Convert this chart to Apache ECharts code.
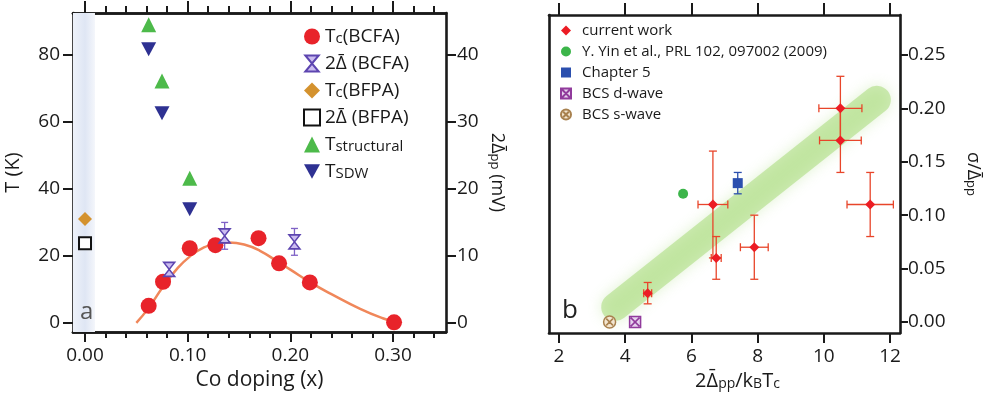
<!DOCTYPE html>
<html><head><meta charset="utf-8">
<script src="https://cdn.jsdelivr.net/npm/echarts@6/dist/echarts.min.js"></script>
<style>html,body{margin:0;padding:0;background:#fff}#c{width:997px;height:404px}</style>
</head><body><div id="c"></div>
<script>
// ---------- Panel a data ----------
const tcBCFA = [[0.062,5.1],[0.076,12.3],[0.102,22.3],[0.127,23.2],[0.169,25.3],[0.189,17.8],[0.219,12.1],[0.301,0.2]];
const gapBCFA = [[0.082,8.0,0.7],[0.136,13.0,2.0],[0.204,12.1,2.0]]; // x, 2Δ (mV), error
const tcBFPA = [[0,31.0]];
const gapBFPA = [[0,11.9]];
const tStruct = [[0.062,89],[0.075,72.2],[0.102,43.2]];
const tSDW = [[0.062,81.7],[0.075,62.6],[0.102,33.9]];
const tcFit = [[0.050,0],[0.062,4.5],[0.076,10.8],[0.090,16.3],[0.102,19.8],[0.115,22.4],[0.130,23.8],[0.140,24.0],[0.155,23.4],[0.170,21.6],[0.188,18.2],[0.200,15.9],[0.219,12.2],[0.240,8.6],[0.268,4.2],[0.290,1.4],[0.305,0]];
const xMajorA = [0,0.1,0.2,0.3];
const xMinorA = [0.02,0.04,0.06,0.08,0.12,0.14,0.16,0.18,0.22,0.24,0.26,0.28,0.32,0.34];
const yTicksT = [0,20,40,60,80];
const yTicksMV = [0,10,20,30,40];
const blueBand = [-0.0117,0.0097];

// ---------- Panel b data ----------
const currentWork = [[10.5,0.20,0.65,0.03],[10.5,0.17,0.63,0.03],[11.4,0.11,0.7,0.03],[6.65,0.11,0.45,0.05],[6.75,0.06,0.15,0.02],[7.9,0.07,0.42,0.03],[4.68,0.027,0.12,0.01]]; // x, y, xerr, yerr
const yin = [[5.75,0.12]];
const chapter5 = [[7.4,0.13,0,0.01]];
const dWave = [[4.3,0]];
const sWave = [[3.53,0]];
const trend = [[3.7,0.014],[11.6,0.208]];
const xTicksB = [2,4,6,8,10,12];
const yTicksB = [0,0.05,0.10,0.15,0.20,0.25];

const FONT = 'Open Sans';
const INK = '#1a1a1a';

function axisBase(extra){
  return Object.assign({
    type:'value', splitLine:{show:false},
    axisLine:{show:true, onZero:false, lineStyle:{color:INK, width:2.6}},
    axisTick:{show:false},
    axisLabel:{show:false},
  }, extra);
}
function ticks(vals, len){ return {show:true, customValues:vals, length:len, lineStyle:{color:INK, width:2}}; }
function labels(vals, fmt, margin){ return {show:true, customValues:vals, formatter:fmt, margin:margin, fontFamily:FONT, fontSize:19, color:INK}; }

const xA = {min:-0.0117, max:0.3516};
const yT = {min:-2.7, max:92.5};
const yMV = {min:-1.35, max:46.25};
const xB = {min:1.7, max:12.3};
const yB = {min:-0.0103, max:0.2874};

const hourglass = 'path://M0,0L10,0L0,12L10,12Z';
const invTri = 'path://M0,0L10,0L5,9Z';
const boxX = 'path://M0,0L10,0L10,10L0,10Z M1,1L9,9 M9,1L1,9';
const circX = 'path://M10,5A5,5,0,1,1,0,5A5,5,0,1,1,10,5Z M2.2,2.2L7.8,7.8 M7.8,2.2L2.2,7.8';

function errBars(color, cap){
  return function(params, api){
    const x=api.value(0), y=api.value(1), ex=api.value(2), ey=api.value(3);
    const ch=[]; const st={stroke:color, lineWidth:1.3};
    if (ey>0){
      const t=api.coord([x,y+ey]), b=api.coord([x,y-ey]);
      ch.push({type:'line', shape:{x1:t[0],y1:t[1],x2:b[0],y2:b[1]}, style:st});
      ch.push({type:'line', shape:{x1:t[0]-cap,y1:t[1],x2:t[0]+cap,y2:t[1]}, style:st});
      ch.push({type:'line', shape:{x1:b[0]-cap,y1:b[1],x2:b[0]+cap,y2:b[1]}, style:st});
    }
    if (ex>0){
      const l=api.coord([x-ex,y]), r=api.coord([x+ex,y]);
      ch.push({type:'line', shape:{x1:l[0],y1:l[1],x2:r[0],y2:r[1]}, style:st});
      ch.push({type:'line', shape:{x1:l[0],y1:l[1]-cap,x2:l[0],y2:l[1]+cap}, style:st});
      ch.push({type:'line', shape:{x1:r[0],y1:r[1]-cap,x2:r[0],y2:r[1]+cap}, style:st});
    }
    return {type:'group', children:ch};
  };
}

const nTc1='Tc(BCFA)', nGap1='2Δ̄ (BCFA)', nTc2='Tc(BFPA)', nGap2='2Δ̄ (BFPA)', nTs='Tstructural', nTsdw='TSDW';
const legendFmtA = {};
legendFmtA[nTc1]='{n|T}{s|c}{n|(BCFA)}';
legendFmtA[nGap1]='{n|2Δ̄ (BCFA)}';
legendFmtA[nTc2]='{n|T}{s|c}{n|(BFPA)}';
legendFmtA[nGap2]='{n|2Δ̄ (BFPA)}';
legendFmtA[nTs]='{n|T}{s|structural}';
legendFmtA[nTsdw]='{n|T}{s|SDW}';

const option = {
  backgroundColor:'#ffffff',
  animation:false,
  textStyle:{fontFamily:FONT},
  grid:[
    {left:73, right:551, top:13, bottom:72},
    {left:549, right:97, top:15, bottom:71}
  ],
  xAxis:[
    axisBase(Object.assign({gridIndex:0, position:'bottom', axisTick:ticks(xMajorA,10), axisLabel:labels(xMajorA, v=>v.toFixed(2), 14),
      name:'Co doping (x)', nameLocation:'middle', nameGap:36, nameTextStyle:{fontFamily:FONT, fontSize:21, color:INK}}, xA)),
    axisBase(Object.assign({gridIndex:0, position:'bottom', axisTick:ticks(xMinorA,6)}, xA)),
    axisBase(Object.assign({gridIndex:0, position:'top', axisTick:ticks(xMajorA,12)}, xA)),
    axisBase(Object.assign({gridIndex:0, position:'top', axisTick:ticks(xMinorA,7)}, xA)),
    axisBase(Object.assign({gridIndex:1, position:'bottom', axisTick:ticks(xTicksB,10), axisLabel:labels(xTicksB, v=>String(v), 14),
      name:'{n|2Δ̄}{s|pp}{n|/k}{s|B}{n|T}{s|c}', nameLocation:'middle', nameGap:34,
      nameTextStyle:{padding:[0,0,0,26], rich:{n:{fontFamily:FONT,fontSize:20,color:INK}, s:{fontFamily:FONT,fontSize:14,color:INK,verticalAlign:'bottom'}}}}, xB)),
    axisBase(Object.assign({gridIndex:1, position:'top', axisTick:ticks(xTicksB,12)}, xB))
  ],
  yAxis:[
    axisBase(Object.assign({gridIndex:0, position:'left', axisTick:ticks(yTicksT,10), axisLabel:labels(yTicksT, v=>String(v), 13),
      name:'T (K)', nameLocation:'middle', nameGap:50, nameTextStyle:{fontFamily:FONT, fontSize:20, color:INK}}, yT)),
    axisBase(Object.assign({gridIndex:0, position:'right', axisTick:ticks(yTicksMV,10), axisLabel:labels(yTicksMV, v=>String(v), 11),
      name:'{n|2Δ̄}{s|pp}{n| (mV)}', nameLocation:'middle', nameGap:42, nameRotate:-90,
      nameTextStyle:{rich:{n:{fontFamily:FONT,fontSize:18,color:INK}, s:{fontFamily:FONT,fontSize:13,color:INK,verticalAlign:'bottom'}}}}, yMV)),
    axisBase(Object.assign({gridIndex:1, position:'right', axisTick:ticks(yTicksB,8), axisLabel:labels(yTicksB, v=>v.toFixed(2), 8),
      name:'{n|σ/Δ̄}{s|pp}', nameLocation:'middle', nameGap:64, nameRotate:-90,
      nameTextStyle:{padding:[0,0,0,0], rich:{n:{fontFamily:FONT,fontSize:18,color:INK}, s:{fontFamily:FONT,fontSize:13,color:INK,verticalAlign:'bottom'}}}}, yB)),
    axisBase(Object.assign({gridIndex:1, position:'left'}, yB))
  ],
  legend:[
    {left:298, top:22, orient:'vertical', itemGap:8, itemWidth:16, itemHeight:16,
      data:[nTc1,nGap1,nTc2,nGap2,nTs,nTsdw],
      formatter:n=>legendFmtA[n],
      textStyle:{rich:{n:{fontFamily:FONT,fontSize:19,color:INK}, s:{fontFamily:FONT,fontSize:15,color:INK,verticalAlign:'bottom'}}}},
    {left:555, top:18, orient:'vertical', itemGap:6, itemWidth:10, itemHeight:10,
      data:['current work','Y. Yin et al., PRL 102, 097002 (2009)','Chapter 5','BCS d-wave','BCS s-wave'],
      textStyle:{fontFamily:FONT, fontSize:15, color:INK, padding:[0,0,0,6]}}
  ],
  graphic:[
    {type:'text', left:80, top:300, z:100, style:{text:'a', font:'24px "Open Sans"', fill:'#555'}},
    {type:'text', left:562, top:298, z:100, style:{text:'b', font:'26px "Open Sans"', fill:'#222'}}
  ],
  series:[
    // panel a
    {type:'line', name:'band', xAxisIndex:0, yAxisIndex:0, data:[], silent:true, z:0,
      markArea:{silent:true, itemStyle:{opacity:1, color:{type:'linear',x:0,y:0,x2:1,y2:0,colorStops:[{offset:0,color:'#eef2fa'},{offset:0.55,color:'#dfe6f4'},{offset:1,color:'#f4f6fb'}]}},
        data:[[{xAxis:blueBand[0], yAxis:yT.min},{xAxis:blueBand[1], yAxis:yT.max}]]}},
    {type:'line', name:'fit', xAxisIndex:0, yAxisIndex:0, data:tcFit, smooth:true, showSymbol:false, lineStyle:{color:'#f0875a', width:2.5}, z:2},
    {type:'scatter', name:nTs, xAxisIndex:0, yAxisIndex:0, data:tStruct, symbol:'triangle', symbolSize:15, itemStyle:{color:'#4dba4a', opacity:1}},
    {type:'scatter', name:nTsdw, xAxisIndex:0, yAxisIndex:0, data:tSDW, symbol:invTri, symbolSize:[15,14], itemStyle:{color:'#2e3192', opacity:1}},
    {type:'scatter', name:nTc1, xAxisIndex:0, yAxisIndex:0, data:tcBCFA, symbol:'circle', symbolSize:16, itemStyle:{color:'#e8232a', opacity:1}, z:3},
    {type:'scatter', name:nTc2, xAxisIndex:0, yAxisIndex:0, data:tcBFPA, symbol:'diamond', symbolSize:14, itemStyle:{color:'#d4922e', opacity:1}},
    {type:'scatter', name:nGap2, xAxisIndex:0, yAxisIndex:1, data:gapBFPA, symbol:'rect', symbolSize:12, itemStyle:{color:'#ffffff', borderColor:'#111', borderWidth:2, opacity:1}},
    {type:'custom', name:'gapErr', xAxisIndex:0, yAxisIndex:1, data:gapBCFA.map(d=>[d[0],d[1],0,d[2]]), renderItem:errBars('#7f62c6',3.5), z:4, encode:{x:0,y:1}},
    {type:'scatter', name:nGap1, xAxisIndex:0, yAxisIndex:1, data:gapBCFA.map(d=>[d[0],d[1]]), symbol:hourglass, symbolSize:[11,14], itemStyle:{color:'#cbbcf0', borderColor:'#5d45b0', borderWidth:1.5, opacity:1}, z:5},
    // panel b
    {type:'line', name:'trend', xAxisIndex:4, yAxisIndex:2, data:trend, showSymbol:false, silent:true, z:1,
      lineStyle:{color:'rgba(160,215,110,0.5)', width:28, cap:'round', shadowBlur:14, shadowColor:'rgba(160,215,110,0.6)'}},
    {type:'custom', name:'cwErr', xAxisIndex:4, yAxisIndex:2, data:currentWork, renderItem:errBars('#e8452a',4), z:3, encode:{x:0,y:1}},
    {type:'custom', name:'c5Err', xAxisIndex:4, yAxisIndex:2, data:chapter5, renderItem:errBars('#2b4fae',4), z:3, encode:{x:0,y:1}},
    {type:'scatter', name:'current work', xAxisIndex:4, yAxisIndex:2, data:currentWork.map(d=>[d[0],d[1]]), symbol:'diamond', symbolSize:10, itemStyle:{color:'#ec1c24', opacity:1}, z:5},
    {type:'scatter', name:'Y. Yin et al., PRL 102, 097002 (2009)', xAxisIndex:4, yAxisIndex:2, data:yin, symbol:'circle', symbolSize:10, itemStyle:{color:'#3cb54a', opacity:1}},
    {type:'scatter', name:'Chapter 5', xAxisIndex:4, yAxisIndex:2, data:chapter5.map(d=>[d[0],d[1]]), symbol:'rect', symbolSize:10, itemStyle:{color:'#2b4fae', opacity:1}, z:5},
    {type:'scatter', name:'BCS d-wave', xAxisIndex:4, yAxisIndex:2, data:dWave, symbol:boxX, symbolSize:11, itemStyle:{color:'#e6d2ee', borderColor:'#913b9c', borderWidth:1.5, opacity:1}},
    {type:'scatter', name:'BCS s-wave', xAxisIndex:4, yAxisIndex:2, data:sWave, symbol:circX, symbolSize:12, itemStyle:{color:'#f3e6d0', borderColor:'#a8814e', borderWidth:1.5, opacity:1}}
  ]
};
const chart = echarts.init(document.getElementById('c'), null, {renderer:'canvas'});
chart.setOption(option);
</script></body></html>
